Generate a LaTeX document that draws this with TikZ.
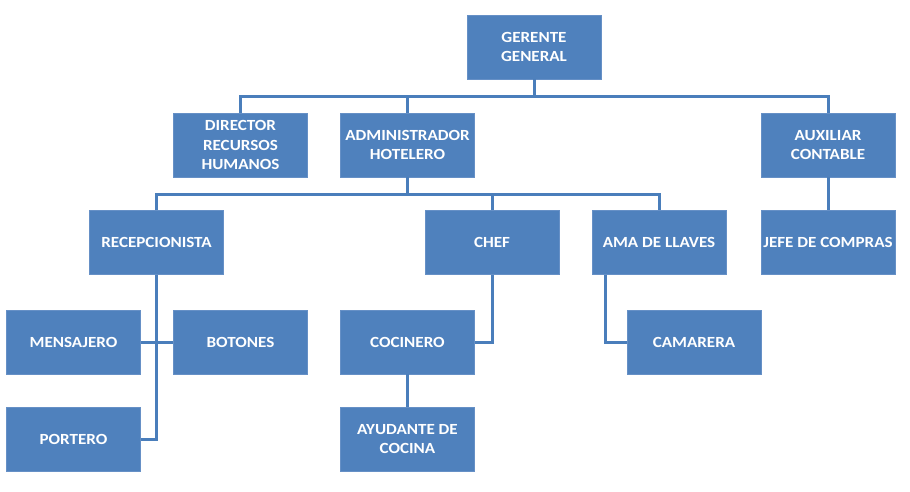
\documentclass[tikz,border=0pt]{standalone}
\usepackage{fontspec}
\setmainfont{Carlito}[FakeStretch=1.1]
\definecolor{boxblue}{HTML}{4F81BD}
\definecolor{boxedge}{HTML}{6690C6}
\definecolor{lineblue}{HTML}{4A7EBB}
\tikzset{
  orgbox/.style={fill=boxblue, draw=boxedge, line width=0.8pt, minimum width=134pt, minimum height=64pt,
    inner sep=0pt, align=center, text=white, font=\fontsize{15.5}{19.5}\selectfont\bfseries},
  conn/.style={draw=lineblue, line width=3pt}
}
\begin{document}
\begin{tikzpicture}[x=1pt,y=-1pt]
\useasboundingbox (0,0) rectangle (910,491);
\node[orgbox] (GG) at (534,47) {GERENTE\\GENERAL};
\node[orgbox] (DIR) at (240.5,145) {DIRECTOR\\RECURSOS\\HUMANOS};
\node[orgbox] (ADM) at (407.5,145) {ADMINISTRADOR\\HOTELERO};
\node[orgbox] (AUX) at (828,145) {AUXILIAR\\CONTABLE};
\node[orgbox] (REC) at (156.5,242.5) {RECEPCIONISTA};
\node[orgbox] (CHEF) at (492,242.5) {CHEF};
\node[orgbox] (AMA) at (659,242.5) {AMA DE LLAVES};
\node[orgbox] (JEFE) at (828,242.5) {JEFE DE COMPRAS};
\node[orgbox] (MEN) at (73.5,342) {MENSAJERO};
\node[orgbox] (BOT) at (240.5,342) {BOTONES};
\node[orgbox] (COC) at (407.5,342) {COCINERO};
\node[orgbox] (CAM) at (694,342) {CAMARERA};
\node[orgbox] (POR) at (73.5,439) {PORTERO};
\node[orgbox] (AYU) at (407.5,439) {AYUDANTE DE\\COCINA};
\coordinate (b1) at (0,96);
\coordinate (b2) at (0,194);
\draw[conn] (DIR.north) -- (DIR.north |- b1) -- (AUX.north |- b1) -- (AUX.north);
\draw[conn] (GG.south) -- (GG.south |- b1);
\draw[conn] (ADM.north) -- (ADM.north |- b1);
\draw[conn] (REC.north) -- (REC.north |- b2) -- (AMA.north |- b2) -- (AMA.north);
\draw[conn] (ADM.south) -- (ADM.south |- b2);
\draw[conn] (CHEF.north) -- (CHEF.north |- b2);
\draw[conn] (AUX.south) -- (JEFE.north);
\draw[conn] (REC.south) -- (REC.south |- POR.east) -- (POR.east);
\draw[conn] (MEN.east) -- (BOT.west);
\draw[conn] (CHEF.south) -- (CHEF.south |- COC.east) -- (COC.east);
\draw[conn] ([xshift=-54pt]AMA.south) -- ([xshift=-54pt]AMA.south |- CAM.west) -- (CAM.west);
\draw[conn] (COC.south) -- (AYU.north);
\end{tikzpicture}
\end{document}
